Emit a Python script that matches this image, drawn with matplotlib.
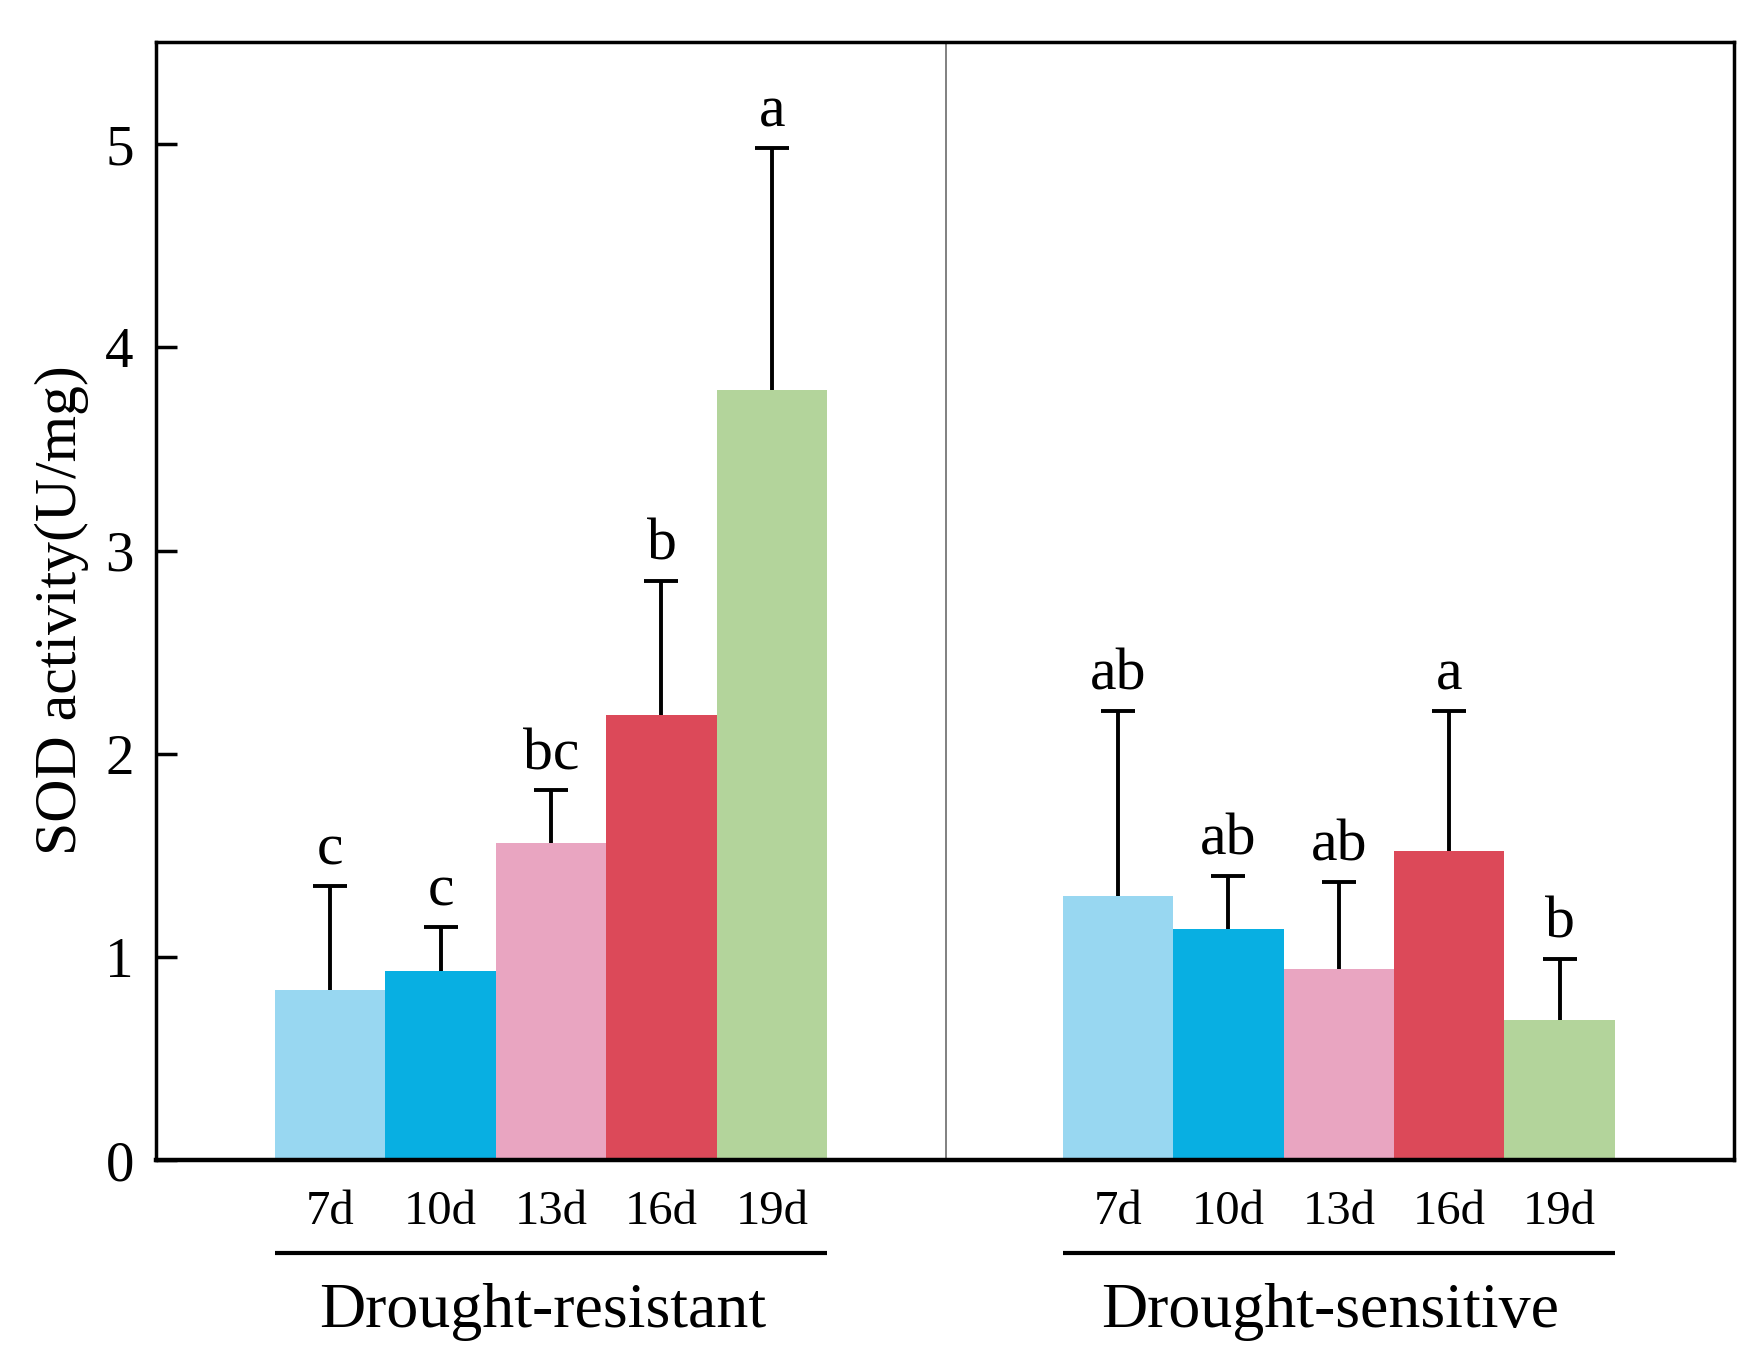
import matplotlib
matplotlib.use("Agg")
import matplotlib.pyplot as plt
import matplotlib.transforms as mtransforms
import numpy as np

plt.rcParams['font.family'] = ['Liberation Serif', 'DejaVu Serif']

days = ["7d", "10d", "13d", "16d", "19d"]
groups = ["Drought-resistant", "Drought-sensitive"]
resistant_mean = [0.84, 0.93, 1.56, 2.19, 3.79]
resistant_err = [0.51, 0.22, 0.26, 0.66, 1.19]
resistant_letters = ["c", "c", "bc", "b", "a"]
sensitive_mean = [1.30, 1.14, 0.94, 1.52, 0.69]
sensitive_err = [0.91, 0.26, 0.43, 0.69, 0.30]
sensitive_letters = ["ab", "ab", "ab", "a", "b"]
colors = ["#98D7F1", "#08AFE2", "#E9A5C1", "#DC4959", "#B3D49B"]
yticks = [0, 1, 2, 3, 4, 5]

fig = plt.figure(figsize=(17.57, 13.70), dpi=100)
ax = fig.add_axes([0.0888, 0.153, 0.8982, 0.816])

group_starts = [1.077, 8.21]
all_means = [resistant_mean, sensitive_mean]
all_errs = [resistant_err, sensitive_err]
all_letters = [resistant_letters, sensitive_letters]

xt, xl = [], []
for g, start in enumerate(group_starts):
    x = start + 0.5 + np.arange(len(days))
    ax.bar(x, all_means[g], width=1.0, color=colors, edgecolor='none', zorder=2)
    eb = ax.errorbar(x, all_means[g], yerr=[np.zeros(len(days)), all_errs[g]],
                     fmt='none', ecolor='black', elinewidth=2.8, capsize=12,
                     capthick=2.8, zorder=3)
    eb[1][0].set_visible(False)
    for xi, m, e, lab in zip(x, all_means[g], all_errs[g], all_letters[g]):
        ax.annotate(lab, (xi, m + e), xytext=(0, 6), textcoords='offset points',
                    ha='center', va='bottom', fontsize=43)
    xt.extend(x)
    xl.extend(days)
    trans = mtransforms.blended_transform_factory(ax.transData, ax.transAxes)
    ax.plot([start, start + len(days)], [-0.0824, -0.0824], color='black', lw=3,
            transform=trans, clip_on=False, solid_capstyle='butt')
    ax.text(start + len(days) / 2 - 0.08, -0.1357, groups[g], transform=trans,
            ha='center', va='center', fontsize=46)

ax.axvline(7.15, color='#808080', lw=1.4, zorder=1)

ax.set_xlim(0, 14.29)
ax.set_ylim(0, 5.5)
ax.set_yticks(yticks)
ax.set_yticklabels([str(t) for t in yticks], fontsize=41)
ax.set_xticks(xt)
ax.set_xticklabels(xl, fontsize=35)
ax.tick_params(axis='x', length=0, pad=21)
ax.tick_params(axis='y', direction='in', length=15, width=2.5, pad=16)
for s in ax.spines.values():
    s.set_linewidth(2.5)
ax.spines['bottom'].set_linewidth(3.2)

fig.text(0.035, 0.555, "SOD activity(U/mg)", rotation=90, ha='center', va='center',
         fontsize=43)

fig.savefig("out.png", dpi=100)
